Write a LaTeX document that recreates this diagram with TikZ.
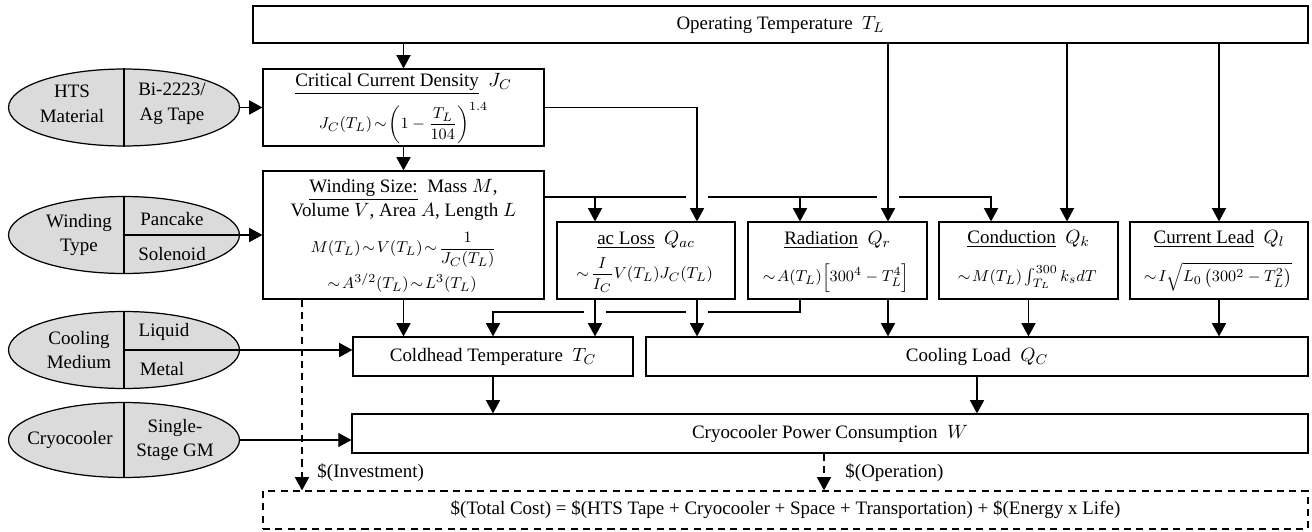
\documentclass[tikz,border=0pt]{standalone}
\usepackage{amsmath}
\usepackage{fontspec}
\setmainfont{Liberation Serif}
\usetikzlibrary{arrows.meta,shapes.geometric}
\newcommand{\apx}{\mathrel{\mkern-3mu\sim\mkern-3mu}}

\begin{document}
\begin{tikzpicture}[
  x=0.02cm, y=-0.02cm,
  font=\fontsize{10.8}{12.5}\selectfont,
  line width=0.7pt,
  box/.style={draw, rectangle, inner sep=0pt, minimum height=0.78cm},
  inbox/.style={inner sep=1pt},
  frm/.style={inner sep=0.5pt, font=\fontsize{9.4}{11}\selectfont},
  opt/.style={ellipse, draw, fill=black!14, minimum width=4.62cm, minimum height=1.54cm, inner sep=0pt},
  optlabel/.style={align=center, font=\fontsize{10.8}{14}\selectfont},
  conn/.style={draw, -{Triangle[width=8pt,length=7.5pt]}},
  cost/.style={conn, dash pattern=on 4pt off 3pt},
  hop/.style={preaction={draw=white, line width=12pt, -, shorten <=4pt, shorten >=9pt}}
]
\useasboundingbox (0,0) rectangle (1312,531);

% boxes
\node[box, minimum width=21.1cm, minimum height=0.74cm] (top) at (780.5,24.5) {Operating Temperature~ $T_L$};
\node[box, minimum width=5.62cm, minimum height=1.54cm] (crit) at (403.5,107.5) {};
\node[box, minimum width=5.62cm, minimum height=2.56cm] (wind) at (403.5,235) {};
\node[box, minimum width=3.56cm, minimum height=1.54cm] (ac) at (646,260.5) {};
\node[box, minimum width=3.58cm, minimum height=1.54cm] (rad) at (837.5,260.5) {};
\node[box, minimum width=3.58cm, minimum height=1.54cm] (cond) at (1028.5,260.5) {};
\node[box, minimum width=3.56cm, minimum height=1.54cm] (lead) at (1219,260.5) {};
\node[box, minimum width=5.6cm] (cold) at (493,356.5) {Coldhead Temperature~ $T_C$};
\node[box, minimum width=13.24cm] (load) at (977,356.5) {Cooling Load~ $Q_C$};
\node[box, minimum width=19.12cm] (power) at (830,433.5) {Cryocooler Power Consumption~ $W$};
\node[box, dash pattern=on 4pt off 3pt, minimum width=20.9cm, minimum height=0.76cm] (total) at (785.5,510)
  {\$(Total Cost) = \$(HTS Tape + Cryocooler + Space + Transportation) + \$(Energy x Life)};

% box contents
\node[inbox] (critt) at (403.5,84) {\underline{Critical Current Density}~ $J_C$};
\node[frm] (critf) at (403.5,123) {$\displaystyle J_C(T_L)\apx\left(1-\frac{T_L}{104}\right)^{1.4}$};
\node[inbox] (windt) at (403.5,190) {\underline{Winding Size:}~ Mass $M$,};
\node[inbox] (winds) at (403.5,212) {Volume $V$, Area $A$, Length $L$};
\node[frm] (windf) at (403.5,250) {$\displaystyle M(T_L)\apx V(T_L)\apx\frac{1}{J_C(T_L)}$};
\node[frm] (windg) at (403.5,283) {$\apx A^{3/2}(T_L)\apx L^3(T_L)$};
\node[inbox] (act) at (646,240) {\underline{ac Loss}~ $Q_{ac}$};
\node[frm] (acf) at (646,275) {$\displaystyle\apx\frac{I}{I_C}V(T_L)J_C(T_L)$};
\node[inbox] (radt) at (837.5,240) {\underline{Radiation}~ $Q_r$};
\node[frm] (radf) at (837.5,278) {$\apx A(T_L)\Big[300^4-T_L^4\Big]$};
\node[inbox] (condt) at (1028.5,239) {\underline{Conduction}~ $Q_k$};
\node[frm] (condf) at (1028.5,277) {$\apx M(T_L)\int_{T_L}^{300}k_s dT$};
\node[inbox] (leadt) at (1219,239) {\underline{Current Lead}~ $Q_l$};
\node[frm] (leadf) at (1219,277) {$\apx I\sqrt{L_0\left(300^2-T_L^2\right)}$};

% design options
\node[opt] (hts) at (124,107.5) {};
\node[opt] (wtype) at (124,235) {};
\node[opt] (cmed) at (124,350) {};
\node[opt, minimum height=1.5cm] (cryo) at (124,440) {};
\foreach \o in {hts,wtype,cmed,cryo}
  \draw (\o.north) -- (\o.south);
\node[optlabel] (htsl) at (72,104) {HTS\\Material};
\node[optlabel] (htsr) at (172,104) {Bi-2223/\\Ag Tape};
\node[optlabel] (wtypel) at (79,235) {Winding\\Type};
\node (wtyper1) at (172,219) {Pancake};
\node (wtyper2) at (172,254) {Solenoid};
\node[optlabel] (cmedl) at (79,350) {Cooling\\Medium};
\node (cmedr1) at (164,332) {Liquid};
\node (cmedr2) at (162,369) {Metal};
\node (cryol) at (70,440) {Cryocooler};
\node[optlabel] (cryor) at (175,440) {Single-\\Stage GM};

% inputs
\draw[conn] (top.south -| crit.north) -- (crit.north);
\draw[conn] (hts.east) -- (crit.west);
\draw[conn] (crit.south) -- (wind.north);
\draw[conn] (wtype.center) -- (wind.west);
\draw[conn] (cmed.center) -- (cmed.center -| cold.west);
\draw[conn] (cryo.east) -- (cryo.east -| power.west);

% winding size to the loads
\coordinate (wbus) at (wind.north east |- 0,197);
\draw[conn] (wbus) -| (991,0 |- cond.north);
\draw[conn] (595,197) -- (595,0 |- ac.north);
\draw[conn] (800,197) -- (800,0 |- rad.north);
\draw[conn, hop] (crit.east) -| (697,0 |- ac.north);
\draw[conn, hop] (888,0 |- top.south) -- (888,0 |- rad.north);
\draw[conn] (1067,0 |- top.south) -- (1067,0 |- cond.north);
\draw[conn] (top.south -| lead.north) -- (lead.north);

% loads to coldhead and cooling load
\draw[conn] (wind.south) -- (wind.south |- cold.north);
\draw[conn] (800,0 |- rad.south) |- (cold.north |- 0,312) -- (cold.north);
\draw[conn, hop] (595,0 |- ac.south) -- (595,0 |- cold.north);
\draw[conn, hop] (697,0 |- ac.south) -- (697,0 |- load.north);
\draw[conn] (888,0 |- rad.south) -- (888,0 |- load.north);
\draw[conn] (cond.south) -- (cond.south |- load.north);
\draw[conn] (lead.south) -- (lead.south |- load.north);
\draw[conn] (cold.south) -- (cold.south |- power.north);
\draw[conn] (load.south) -- (load.south |- power.north);

% cost
\draw[cost] (302,0 |- wind.south) -- (302,0 |- total.north);
\draw[cost] (824,0 |- power.south) -- (824,0 |- total.north);
\node[anchor=west] (invest) at (311,473) {\$(Investment)};
\node[anchor=west] (oper) at (839,473) {\$(Operation)};
\end{tikzpicture}
\end{document}
